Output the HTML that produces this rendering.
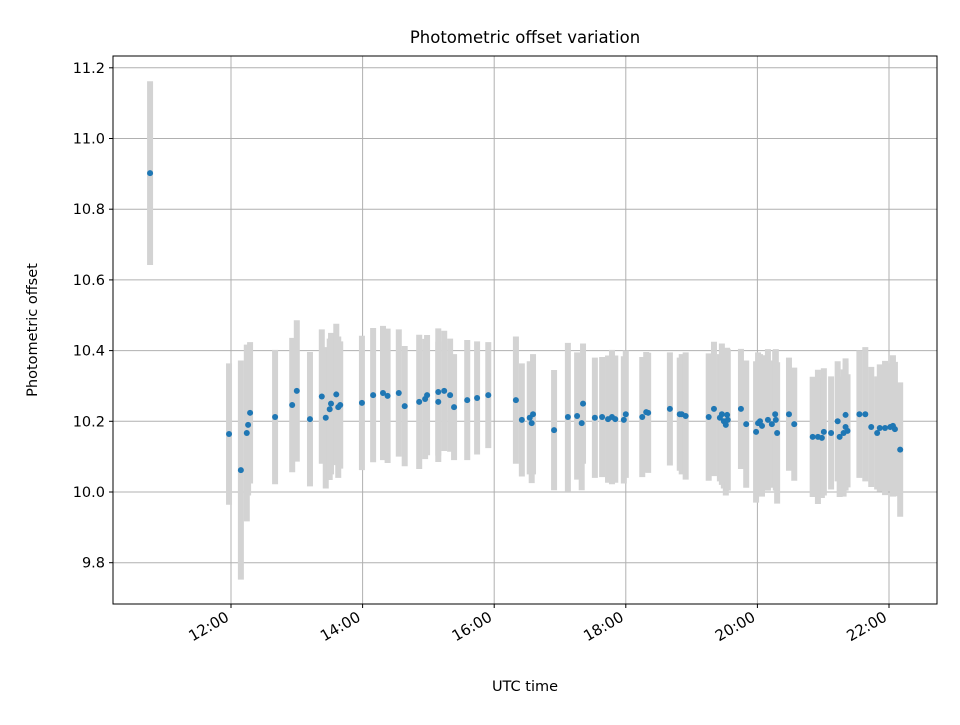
<!DOCTYPE html>
<html><head><meta charset="utf-8"><style>
body{margin:0;background:#fff;}
svg text{font-family:"DejaVu Sans","Liberation Sans",sans-serif;}
</style></head><body>
<svg id="chart" width="960" height="720" xmlns="http://www.w3.org/2000/svg">
<rect width="960" height="720" fill="#fff"/>
<text x="525" y="43" font-size="16.5" text-anchor="middle">Photometric offset variation</text>
<g id="grid"></g><g id="bars"></g><g id="pts"></g><g id="axes"></g>
<text x="525" y="691" font-size="14.5" text-anchor="middle">UTC time</text>
<text x="37" y="330" font-size="14.5" text-anchor="middle" transform="rotate(-90 37 330)">Photometric offset</text>
</svg>
<script>
const hours=[10.77,11.97,12.15,12.24,12.26,12.29,12.67,12.93,13.0,13.2,13.38,13.44,13.5,13.52,13.6,13.63,13.66,13.99,14.16,14.31,14.38,14.55,14.64,14.86,14.95,14.98,15.15,15.15,15.24,15.33,15.39,15.59,15.74,15.91,16.33,16.42,16.54,16.59,16.57,16.91,17.12,17.26,17.35,17.33,17.53,17.64,17.73,17.79,17.84,17.97,18.0,18.25,18.31,18.34,18.67,18.82,18.85,18.91,19.26,19.34,19.43,19.46,19.49,19.52,19.55,19.54,19.75,19.83,19.98,20.01,20.04,20.07,20.16,20.22,20.27,20.28,20.3,20.48,20.56,20.84,20.92,20.98,21.01,21.12,21.22,21.25,21.31,21.34,21.34,21.37,21.55,21.64,21.73,21.82,21.86,21.94,22.02,22.06,22.09,22.17];
const offsets=[10.902,10.164,10.062,10.167,10.19,10.224,10.212,10.246,10.286,10.206,10.27,10.21,10.234,10.25,10.276,10.24,10.246,10.252,10.274,10.28,10.272,10.28,10.243,10.255,10.263,10.274,10.255,10.283,10.286,10.274,10.24,10.26,10.266,10.274,10.26,10.204,10.21,10.22,10.195,10.175,10.212,10.215,10.25,10.195,10.21,10.212,10.206,10.212,10.206,10.204,10.22,10.212,10.226,10.224,10.235,10.22,10.22,10.215,10.212,10.235,10.21,10.22,10.2,10.19,10.204,10.218,10.235,10.192,10.17,10.195,10.2,10.187,10.204,10.192,10.22,10.204,10.167,10.22,10.192,10.156,10.156,10.153,10.17,10.167,10.2,10.156,10.167,10.184,10.218,10.173,10.22,10.22,10.184,10.167,10.181,10.181,10.184,10.187,10.178,10.12];
const errors=[0.26,0.2,0.31,0.25,0.2,0.2,0.19,0.19,0.2,0.19,0.19,0.2,0.2,0.2,0.2,0.2,0.18,0.19,0.19,0.19,0.19,0.18,0.17,0.19,0.17,0.17,0.17,0.18,0.17,0.16,0.15,0.17,0.16,0.15,0.18,0.16,0.16,0.17,0.17,0.17,0.21,0.18,0.17,0.19,0.17,0.17,0.18,0.19,0.18,0.18,0.18,0.17,0.17,0.17,0.16,0.16,0.17,0.18,0.18,0.19,0.18,0.2,0.19,0.2,0.2,0.19,0.17,0.18,0.2,0.2,0.19,0.2,0.2,0.18,0.18,0.2,0.2,0.16,0.16,0.17,0.19,0.17,0.18,0.16,0.17,0.17,0.18,0.18,0.16,0.16,0.18,0.19,0.17,0.16,0.18,0.19,0.18,0.2,0.19,0.19];
const yTicks=[9.8,10.0,10.2,10.4,10.6,10.8,11.0,11.2];
const xTicks=[12,14,16,18,20,22];
const xTickLabels=["12:00","14:00","16:00","18:00","20:00","22:00"];
const L=113,R=937,T=56,B=604;
const X=h=>231+(h-12)*65.8;
const Y=v=>492-(v-10)*353.5;
const NS="http://www.w3.org/2000/svg";
function mk(tag,attrs,parent){const e=document.createElementNS(NS,tag);for(const k in attrs)e.setAttribute(k,attrs[k]);parent.appendChild(e);return e;}
const grid=document.getElementById('grid'),bars=document.getElementById('bars'),pts=document.getElementById('pts'),axes=document.getElementById('axes');
yTicks.forEach(t=>{const y=Y(t);
 const g=mk('line',{x1:L,x2:R,y1:y,y2:y,stroke:'#b0b0b0','stroke-width':1},grid);
 
 mk('line',{x1:L-4,x2:L,y1:y,y2:y,stroke:'#000','stroke-width':1},axes);
 const tx=mk('text',{x:L-8,y:y+5,'font-size':14.5,'text-anchor':'end'},axes);tx.textContent=t.toFixed(1);
 });
xTicks.forEach((t,i)=>{const x=X(t);
 const g=mk('line',{x1:x,x2:x,y1:T,y2:B,stroke:'#b0b0b0','stroke-width':1},grid);
 
 mk('line',{x1:x,x2:x,y1:B,y2:B+4,stroke:'#000','stroke-width':1},axes);
 const ax=x-1,ay=B+16;
 const tx=mk('text',{x:ax,y:ay,'font-size':15,'text-anchor':'end',transform:`rotate(-30 ${ax} ${ay})`},axes);tx.textContent=xTickLabels[i];
 });
const fr=mk('rect',{x:L,y:T,width:R-L,height:B-T,fill:'none',stroke:'#000','stroke-width':1},axes);

hours.forEach((h,i)=>{const x=X(h);
 const b=mk('line',{x1:x,x2:x,y1:Y(offsets[i]+errors[i]),y2:Y(offsets[i]-errors[i]),stroke:'#d3d3d3','stroke-width':6},bars);
 
 const c=mk('circle',{cx:x,cy:Y(offsets[i]),r:3,fill:'#1f77b4'},pts);
 });
</script>
</body></html>
